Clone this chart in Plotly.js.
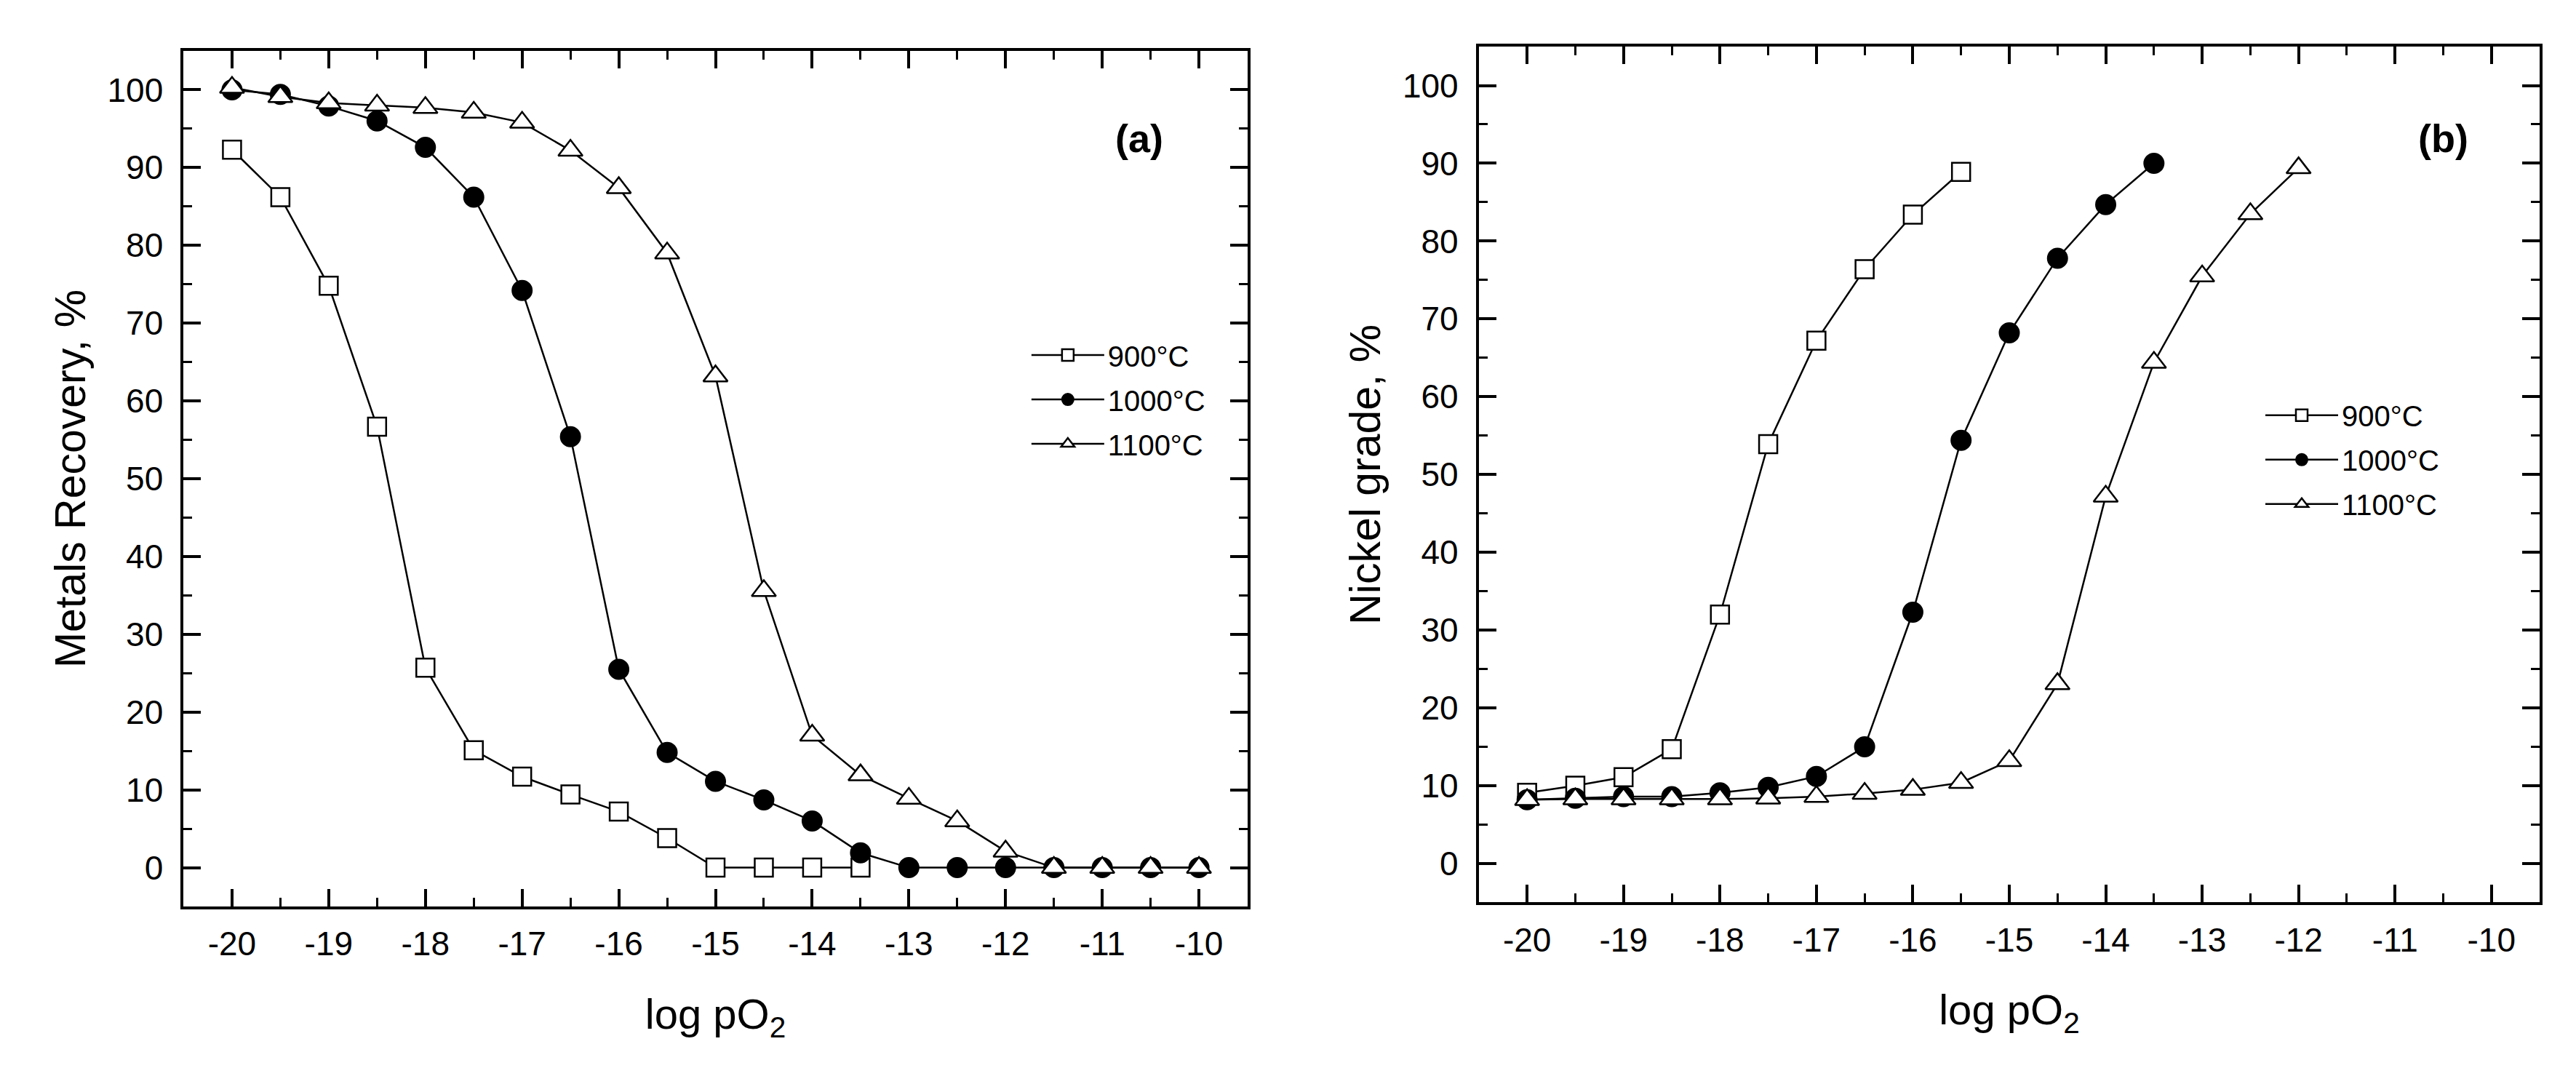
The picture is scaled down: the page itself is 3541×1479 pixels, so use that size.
<!DOCTYPE html>
<html>
<head>
<meta charset="utf-8">
<script src="https://cdn.plot.ly/plotly-3.0.1.min.js"></script>
<style>
html, body {margin: 0; padding: 0; background: #ffffff;}
#plot {width: 3541px; height: 1479px;}
</style>
</head>
<body>
<div id="plot"></div>
<script>
// log pO2 steps shared by every series (a series uses the first n of them)
var log_po2 = [-20, -19.5, -19, -18.5, -18, -17.5, -17, -16.5, -16, -15.5, -15,
               -14.5, -14, -13.5, -13, -12.5, -12, -11.5, -11, -10.5, -10];

// (a) metals recovery, %
var recovery_900 = [92.3, 86.2, 74.8, 56.7, 25.7, 15.1, 11.7, 9.4, 7.2, 3.8, 0, 0, 0, 0];
var recovery_1000 = [100, 99.4, 97.9, 96.0, 92.6, 86.2, 74.2, 55.4, 25.5, 14.8, 11.1, 8.7, 6.0, 1.9, 0, 0, 0, 0, 0, 0, 0];
var recovery_1100 = [100.3, 99.1, 98.3, 98.0, 97.7, 97.1, 95.8, 92.2, 87.4, 79.0, 63.2, 35.6, 17.0, 11.9, 8.9, 6.0, 2.1, 0, 0, 0, 0];

// (b) nickel grade, %
var grade_900 = [9.1, 10.0, 11.1, 14.7, 32.0, 53.9, 67.2, 76.4, 83.4, 88.9];
var grade_1000 = [8.2, 8.4, 8.6, 8.6, 9.1, 9.8, 11.2, 15.0, 32.3, 54.4, 68.2, 77.8, 84.7, 90.0];
var grade_1100 = [8.2, 8.3, 8.3, 8.3, 8.3, 8.4, 8.6, 9.0, 9.5, 10.4, 13.2, 23.1, 47.2, 64.4, 75.5, 83.5, 89.4];

var series_names = ['900°C', '1000°C', '1100°C'];
var x_tick_values = [-20, -19, -18, -17, -16, -15, -14, -13, -12, -11, -10];
var x_tick_labels = ['-20', '-19', '-18', '-17', '-16', '-15', '-14', '-13', '-12', '-11', '-10'];
var y_tick_values = [0, 10, 20, 30, 40, 50, 60, 70, 80, 90, 100];

var font_family = 'Arial, "Liberation Sans", sans-serif';

var marker_styles = [
   {symbol: 'square', size: 25, color: 'white', line: {color: 'black', width: 2.5}},
   {symbol: 'circle', size: 27, color: 'black', line: {color: 'black', width: 2}},
   {symbol: 'triangle-up', size: 29, color: 'white', line: {color: 'black', width: 2.5}}
];

function make_trace(i, values, xaxis, yaxis, legend) {
   return {
      name: series_names[i],
      x: log_po2.slice(0, values.length),
      y: values,
      xaxis: xaxis,
      yaxis: yaxis,
      legend: legend,
      legendgroup: legend + '_' + i,
      type: 'scatter',
      mode: 'lines+markers',
      line: {color: 'black', width: 2.5},
      marker: marker_styles[i]
   };
}

var traces = [
   make_trace(0, recovery_900, 'x', 'y', 'legend'),
   make_trace(1, recovery_1000, 'x', 'y', 'legend'),
   make_trace(2, recovery_1100, 'x', 'y', 'legend'),
   make_trace(0, grade_900, 'x2', 'y2', 'legend2'),
   make_trace(1, grade_1000, 'x2', 'y2', 'legend2'),
   make_trace(2, grade_1100, 'x2', 'y2', 'legend2')
];

function x_layout(domain, anchor) {
   return {
      domain: domain,
      anchor: anchor,
      range: [-20.5, -9.5],
      tickmode: 'array',
      tickvals: x_tick_values,
      ticktext: x_tick_labels,
      ticks: 'inside',
      ticklen: 24,
      tickwidth: 4,
      tickcolor: 'black',
      ticklabelstandoff: 8,
      minor: {tickmode: 'linear', tick0: 0, dtick: 0.5, ticks: 'inside', ticklen: 12, tickwidth: 3, tickcolor: 'black', showgrid: false},
      showline: true,
      linewidth: 4,
      linecolor: 'black',
      mirror: 'allticks',
      showgrid: false,
      zeroline: false,
      automargin: false,
      tickfont: {family: font_family, size: 46, color: 'black'},
      title: {
         text: 'log pO<sub>2</sub>',
         font: {family: font_family, size: 58, color: 'black'},
         standoff: 52
      }
   };
}

function y_layout(domain, anchor, title_text) {
   return {
      domain: domain,
      anchor: anchor,
      range: [-5, 105],
      tickmode: 'array',
      tickvals: y_tick_values,
      ticks: 'inside',
      ticklen: 24,
      tickwidth: 4,
      tickcolor: 'black',
      ticklabelstandoff: 15,
      minor: {tickmode: 'linear', tick0: 0, dtick: 5, ticks: 'inside', ticklen: 12, tickwidth: 3, tickcolor: 'black', showgrid: false},
      showline: true,
      linewidth: 4,
      linecolor: 'black',
      mirror: 'allticks',
      showgrid: false,
      zeroline: false,
      automargin: false,
      tickfont: {family: font_family, size: 46, color: 'black'},
      title: {
         text: title_text,
         font: {family: font_family, size: 59, color: 'black'},
         standoff: 12
      }
   };
}

function legend_layout(x, y) {
   return {
      x: x,
      y: y,
      xanchor: 'left',
      yanchor: 'top',
      bgcolor: 'rgba(0,0,0,0)',
      borderwidth: 0,
      itemwidth: 100,
      tracegroupgap: 6,
      font: {family: font_family, size: 40, color: 'black'}
   };
}

var layout = {
   width: 3541,
   height: 1479,
   margin: {l: 0, r: 0, t: 0, b: 0, pad: 0},
   paper_bgcolor: 'white',
   plot_bgcolor: 'white',
   showlegend: true,
   xaxis: x_layout([0.0713, 0.4842], 'y'),
   yaxis: y_layout([0.1575, 0.9527], 'x', 'Metals Recovery, %'),
   xaxis2: x_layout([0.5741, 0.9859], 'y2'),
   yaxis2: y_layout([0.1613, 0.9567], 'x2', 'Nickel grade, %'),
   legend: legend_layout(0.399, 0.692),
   legend2: legend_layout(0.878, 0.636),
   annotations: [
      {text: '(a)', xref: 'x domain', yref: 'y domain', x: 0.922, y: 0.925, showarrow: false,
       font: {family: font_family, size: 54, color: 'black', weight: 'bold'}},
      {text: '(b)', xref: 'x2 domain', yref: 'y2 domain', x: 0.934, y: 0.92, showarrow: false,
       font: {family: font_family, size: 54, color: 'black', weight: 'bold'}}
   ]
};

Plotly.newPlot(document.getElementById('plot'), traces, layout, {displayModeBar: false});
</script>
</body>
</html>
